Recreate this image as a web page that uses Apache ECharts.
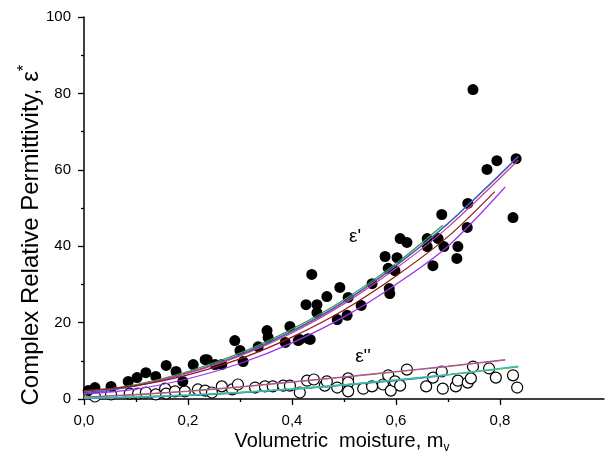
<!DOCTYPE html>
<html>
<head>
<meta charset="utf-8">
<script src="https://cdn.jsdelivr.net/npm/echarts@6/dist/echarts.min.js"></script>
<style>
  html, body { margin: 0; padding: 0; background: #fff; }
  #chart { width: 605px; height: 466px; }
</style>
</head>
<body>
<div id="chart"></div>
<script>
// measured points, eps' (filled) and eps'' (open)
const realX = [0.008, 0.021, 0.052, 0.085, 0.102, 0.119, 0.138, 0.158, 0.177, 0.190, 0.210, 0.233, 0.237, 0.252, 0.265,
  0.290, 0.300, 0.306, 0.335, 0.352, 0.354, 0.387, 0.396, 0.412, 0.431, 0.427, 0.448, 0.438, 0.415, 0.435,
  0.448, 0.467, 0.487, 0.492, 0.506, 0.508, 0.533, 0.554, 0.579, 0.585, 0.587, 0.588, 0.598, 0.602, 0.608,
  0.621, 0.660, 0.660, 0.671, 0.681, 0.688, 0.692, 0.719, 0.717, 0.737, 0.738, 0.748, 0.775, 0.794, 0.825, 0.831];
const realY = [2.2, 3.0, 3.3, 4.6, 5.6, 6.9, 5.9, 8.8, 7.2, 4.6, 9.0, 10.3, 10.3, 9.0, 9.0,
  15.3, 12.7, 9.8, 13.7, 17.9, 16.1, 14.8, 19.0, 15.3, 15.8, 24.7, 24.7, 32.6, 15.6, 15.6,
  22.6, 26.8, 20.8, 29.2, 21.9, 26.6, 24.5, 30.2, 37.3, 34.2, 28.9, 27.6, 33.6, 37.0, 42.0,
  41.0, 42.0, 39.9, 34.9, 42.0, 48.3, 39.9, 39.9, 36.8, 44.9, 51.2, 81.0, 60.1, 62.4, 47.5, 62.9];

const imagX = [0.021, 0.052, 0.088, 0.104, 0.119, 0.138, 0.156, 0.158, 0.175, 0.194, 0.219, 0.233, 0.246, 0.265, 0.285,
  0.296, 0.329, 0.348, 0.363, 0.383, 0.396, 0.415, 0.429, 0.442, 0.463, 0.467, 0.487, 0.508, 0.508, 0.508,
  0.537, 0.554, 0.575, 0.585, 0.590, 0.598, 0.608, 0.621, 0.658, 0.671, 0.688, 0.690, 0.715, 0.719, 0.738,
  0.744, 0.748, 0.779, 0.792, 0.825, 0.833];
const imagY = [0.65, 1.2, 1.4, 1.4, 1.7, 1.2, 2.7, 1.4, 2.0, 2.0, 2.5, 2.2, 1.7, 3.3, 2.5,
  3.8, 3.0, 3.3, 3.3, 3.5, 3.5, 1.7, 4.8, 5.1, 3.5, 4.6, 3.0, 5.4, 4.3, 2.0,
  2.7, 3.3, 3.8, 6.2, 2.2, 4.6, 3.5, 7.7, 3.3, 5.6, 7.2, 2.7, 3.3, 4.8, 4.3,
  5.4, 8.5, 8.0, 5.6, 6.2, 3.0];

// fitted curves (samples every 0.1, last one at the curve's end)
const fitX = [0, 0.1, 0.2, 0.3, 0.4, 0.5, 0.6, 0.7];
const realFits = [
  { color: '#3a9a3a', x: [0, 0.1, 0.2, 0.3, 0.4, 0.5, 0.6, 0.69], y: [1.8, 3.8, 7.2, 12.0, 18.3, 26.0, 35.5, 45.5] },
  { color: '#2c3590', x: fitX.concat([0.835]), y: [1.4, 3.4, 6.8, 11.5, 17.7, 25.4, 34.9, 45.9, 63.3] },
  { color: '#4a6cc8', x: fitX.concat([0.835]), y: [1.5, 3.5, 6.9, 11.6, 17.8, 25.5, 35.0, 46.0, 63.5] },
  { color: '#c0409a', x: fitX.concat([0.835]), y: [2.0, 3.6, 6.8, 11.3, 17.3, 24.9, 34.2, 45.0, 62.5] },
  { color: '#901818', x: fitX.concat([0.79]), y: [2.2, 3.5, 6.3, 10.5, 16.2, 23.3, 32.2, 42.5, 54.3] },
  { color: '#9a30f0', x: fitX.concat([0.81]), y: [1.3, 2.6, 5.3, 9.3, 14.7, 21.5, 30.0, 40.0, 55.5] }
];
const imagFits = [
  { color: '#a08a20', x: fitX.concat([0.81]), y: [0.4, 1.1, 2.0, 3.1, 4.4, 5.7, 7.1, 8.5, 10.2] },
  { color: '#b050b0', x: fitX.concat([0.81]), y: [0.5, 1.2, 2.1, 3.2, 4.5, 5.8, 7.2, 8.6, 10.3] },
  { color: '#3048c0', x: [0, 0.1, 0.2, 0.3, 0.4, 0.5, 0.6, 0.69], y: [0.1, 0.4, 0.9, 1.6, 2.5, 3.6, 4.8, 6.1] },
  { color: '#40b040', x: fitX.concat([0.835]), y: [0.2, 0.5, 1.0, 1.7, 2.6, 3.7, 4.9, 6.3, 8.4] },
  { color: '#a0b030', x: fitX.concat([0.835]), y: [0.3, 0.6, 1.1, 1.8, 2.7, 3.8, 5.0, 6.4, 8.5] },
  { color: '#20c0d0', x: fitX.concat([0.835]), y: [0.2, 0.5, 1.0, 1.7, 2.6, 3.7, 5.0, 6.4, 8.6] }
];

const xMajor = [0, 0.2, 0.4, 0.6, 0.8];
const xMinor = [0.1, 0.3, 0.5, 0.7];
const xLabels = ['0,0', '0,2', '0,4', '0,6', '0,8'];

const FONT = 'Liberation Sans, Arial, sans-serif';
const zip = (xs, ys) => xs.map((x, i) => [x, ys[i]]);

const fitSeries = realFits.concat(imagFits).map(f => ({
  type: 'line',
  smooth: 0.3,
  showSymbol: false,
  silent: true,
  data: zip(f.x, f.y),
  lineStyle: { color: f.color, width: 1.2 },
  z: 3
}));

const chart = echarts.init(document.getElementById('chart'));

chart.setOption({
  animation: false,
  backgroundColor: '#fff',
  grid: { left: 84, right: 1, top: 17, bottom: 67 },
  xAxis: [
    {
      type: 'value',
      min: 0,
      max: 1,
      axisLine: { lineStyle: { color: '#000', width: 1.5 } },
      axisTick: { customValues: xMajor, length: 6, lineStyle: { color: '#000', width: 1.3 } },
      axisLabel: {
        customValues: xMajor,
        formatter: v => xLabels[xMajor.indexOf(v)] || '',
        color: '#000', fontSize: 15, fontFamily: FONT, margin: 14
      },
      splitLine: { show: false }
    },
    {
      type: 'value',
      min: 0,
      max: 1,
      position: 'bottom',
      axisLine: { show: false },
      axisTick: { customValues: xMinor, length: 3, lineStyle: { color: '#000', width: 1.3 } },
      axisLabel: { show: false },
      splitLine: { show: false }
    }
  ],
  yAxis: {
    type: 'value',
    min: 0,
    max: 100,
    interval: 20,
    axisLine: { show: true, lineStyle: { color: '#000', width: 1.5 } },
    axisTick: { show: true, length: 6, lineStyle: { color: '#000', width: 1.3 } },
    minorTick: { show: true, splitNumber: 2, length: 3, lineStyle: { color: '#000', width: 1.3 } },
    axisLabel: { color: '#000', fontSize: 15, fontFamily: FONT, margin: 13 },
    splitLine: { show: false }
  },
  graphic: [
    {
      type: 'text',
      x: 31, y: 235,
      rotation: Math.PI / 2,
      style: {
        text: 'Complex Relative Permittivity, ε{sup|*}',
        font: '24px ' + FONT,
        fill: '#000',
        textAlign: 'center',
        textVerticalAlign: 'middle',
        rich: { sup: { fontSize: 17, fontFamily: FONT, fill: '#000', padding: [0, 0, 13, 0] } }
      }
    },
    {
      type: 'text',
      x: 342, y: 441,
      style: {
        text: 'Volumetric  moisture, m{sub|v}',
        font: '20px ' + FONT,
        fill: '#000',
        textAlign: 'center',
        textVerticalAlign: 'middle',
        rich: { sub: { fontSize: 12, fontFamily: FONT, fill: '#000', padding: [14, 0, 0, 0] } }
      }
    },
    {
      type: 'text', x: 355, y: 237,
      style: { text: "ε'", font: '19px ' + FONT, fill: '#000', textAlign: 'center', textVerticalAlign: 'middle' }
    },
    {
      type: 'text', x: 363, y: 357,
      style: { text: "ε''", font: '19px ' + FONT, fill: '#000', textAlign: 'center', textVerticalAlign: 'middle' }
    }
  ],
  series: [
    {
      type: 'scatter',
      data: zip(imagX, imagY),
      symbol: 'circle',
      symbolSize: 11,
      itemStyle: { color: '#fff', borderColor: '#000', borderWidth: 1.2, opacity: 1 },
      z: 2
    },
    {
      type: 'scatter',
      data: zip(realX, realY),
      symbol: 'circle',
      symbolSize: 11,
      itemStyle: { color: '#000', opacity: 1 },
      z: 2
    }
  ].concat(fitSeries)
});
</script>
</body>
</html>
